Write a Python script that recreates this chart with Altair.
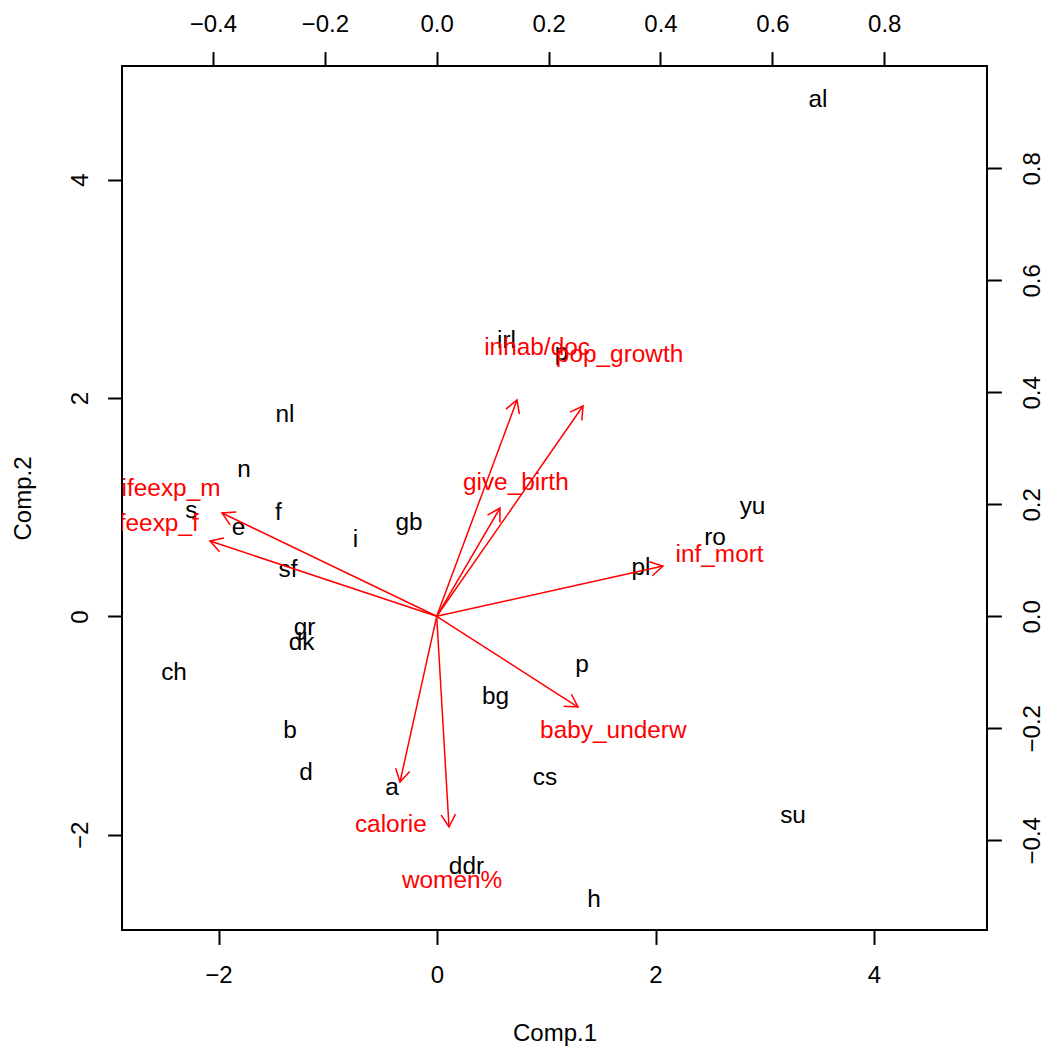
import math
import altair as alt
import pandas as pd

# Principal component scores (Comp.1, Comp.2) for each country
countries = ["al", "irl", "p", "nl", "n", "s", "e", "f", "i", "gb", "sf", "gr", "dk",
             "ch", "b", "d", "a", "bg", "p", "cs", "ddr", "h", "su", "yu", "ro", "pl"]
comp1 = [3.487, 0.636, 1.140, -1.391, -1.767, -2.248, -1.817, -1.451, -0.746, -0.256,
         -1.364, -1.213, -1.240, -2.407, -1.346, -1.199, -0.412, 0.535, 1.327, 0.989,
         0.270, 1.437, 3.259, 2.888, 2.545, 1.867]
comp2 = [4.743, 2.538, 2.428, 1.858, 1.356, 0.981, 0.825, 0.962, 0.715, 0.871,
         0.440, -0.091, -0.228, -0.503, -1.034, -1.418, -1.556, -0.723, -0.429, -1.464,
         -2.279, -2.582, -1.812, 1.017, 0.734, 0.459]

# Variable loadings on the first two components
variables = ["inhab/doc", "pop_growth", "give_birth", "lifeexp_m", "lifeexp_f",
             "inf_mort", "baby_underw", "calorie", "women%"]
load1 = [0.1794, 0.3269, 0.1414, -0.4797, -0.5065, 0.5056, 0.3157, -0.0820, 0.0275]
load2 = [0.4828, 0.4694, 0.2417, 0.2306, 0.1681, 0.1123, -0.2025, -0.3699, -0.4703]

FONT = "Liberation Sans"
FS = 24.4
DY = 8.7  # half the cap height: labels are centred on their point

scores = pd.DataFrame({"country": countries, "comp1": comp1, "comp2": comp2})

loads = pd.DataFrame({"var": variables, "l1": load1, "l2": load2})
loads["o1"] = 0.0
loads["o2"] = 0.0
loads["tip1"] = loads["l1"] * 0.8
loads["tip2"] = loads["l2"] * 0.8
loads["head_angle"] = [math.degrees(math.atan2(-b, a)) % 360 for a, b in zip(load1, load2)]

# Scales: scores on bottom/left, loadings on top/right
x_sc = alt.Scale(domain=[-2.8833, 5.0343], nice=False, zero=False)
y_sc = alt.Scale(domain=[-2.8709, 5.0412], nice=False, zero=False)
lx_sc = alt.Scale(domain=[-0.5625, 0.9836], nice=False, zero=False)
ly_sc = alt.Scale(domain=[-0.5602, 0.9827], nice=False, zero=False)

bottom_axis = alt.Axis(orient="bottom", values=[-2, 0, 2, 4], format="d", title="Comp.1",
                       labelBaseline="top", labelAlign="center", labelPadding=18.6,
                       titleBaseline="alphabetic", titleY=110)
left_axis = alt.Axis(orient="left", values=[-2, 0, 2, 4], format="d", title="Comp.2",
                     labelAngle=270, labelAlign="center", labelBaseline="bottom",
                     labelPadding=15.3, titleAngle=270, titleBaseline="alphabetic",
                     titleX=-92)
top_axis = alt.Axis(orient="top", values=[-0.4, -0.2, 0.0, 0.2, 0.4, 0.6, 0.8], format=".1f",
                    title=None, labelBaseline="bottom", labelAlign="center", labelPadding=15.3)
right_axis = alt.Axis(orient="right", values=[-0.4, -0.2, 0.0, 0.2, 0.4, 0.6, 0.8],
                      format=".1f", title=None, labelAngle=270, labelAlign="center",
                      labelBaseline="top", labelPadding=18.6)

score_text = alt.Chart(scores).mark_text(
    font=FONT, fontSize=FS, color="black", baseline="alphabetic", align="center",
    dy=DY, clip=True
).encode(
    x=alt.X("comp1:Q", scale=x_sc, axis=bottom_axis),
    y=alt.Y("comp2:Q", scale=y_sc, axis=left_axis),
    text="country:N",
)

base = alt.Chart(loads)

arrows = base.mark_rule(color="red", strokeWidth=1.5).encode(
    x=alt.X("o1:Q", scale=lx_sc, axis=top_axis),
    y=alt.Y("o2:Q", scale=ly_sc, axis=right_axis),
    x2="tip1:Q",
    y2="tip2:Q",
)

heads = base.mark_point(
    shape="M -0.866 -0.5 L 0 0 L -0.866 0.5",
    filled=False, color="red", strokeWidth=1.5, size=829, opacity=1,
).encode(
    x=alt.X("tip1:Q", scale=lx_sc, axis=top_axis),
    y=alt.Y("tip2:Q", scale=ly_sc, axis=right_axis),
    angle=alt.Angle("head_angle:Q", scale=None),
)

var_text = base.mark_text(
    font=FONT, fontSize=FS, color="red", baseline="alphabetic", align="center",
    dy=DY, clip=True
).encode(
    x=alt.X("l1:Q", scale=lx_sc, axis=top_axis),
    y=alt.Y("l2:Q", scale=ly_sc, axis=right_axis),
    text="var:N",
)

loadings_layer = alt.layer(arrows, heads, var_text)

chart = alt.layer(score_text, loadings_layer).resolve_scale(
    x="independent", y="independent"
).properties(
    width=865, height=864,
    padding={"left": 122, "top": 66, "right": 61, "bottom": 121},
    autosize=alt.AutoSizeParams(type="none"),
    background="white",
).configure_view(
    stroke="black", strokeWidth=2
).configure_axis(
    domain=False, grid=False, ticks=True, tickSize=14.4, tickColor="black", tickWidth=2,
    labelFont=FONT, labelFontSize=24, labelColor="black", labelFlush=False,
    labelOverlap=False, titleFont=FONT, titleFontSize=24, titleColor="black",
    titleFontWeight="normal",
)

chart.save("out.html", embed_options={"renderer": "svg", "actions": False})
